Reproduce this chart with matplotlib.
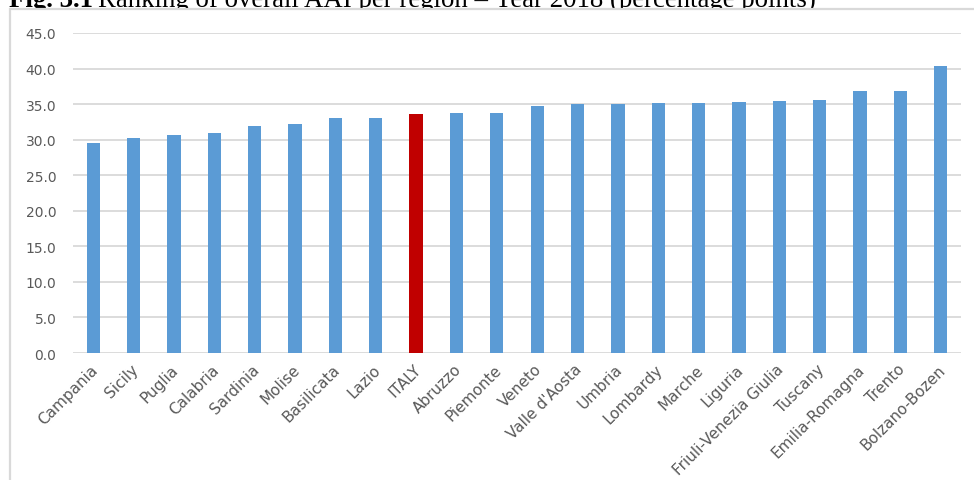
import matplotlib
matplotlib.use("Agg")
import matplotlib.pyplot as plt
from matplotlib.patches import Rectangle
from matplotlib.transforms import offset_copy

# Active Ageing Index by region, 2018 (percentage points)
regions = ["Campania", "Sicily", "Puglia", "Calabria", "Sardinia", "Molise",
           "Basilicata", "Lazio", "ITALY", "Abruzzo", "Piemonte", "Veneto",
           "Valle d'Aosta", "Umbria", "Lombardy", "Marche", "Liguria",
           "Friuli-Venezia Giulia", "Tuscany", "Emilia-Romagna", "Trento",
           "Bolzano-Bozen"]
aai = [29.5, 30.2, 30.6, 31.0, 31.9, 32.2, 33.0, 33.1, 33.6, 33.7, 33.8, 34.7,
       35.0, 35.0, 35.1, 35.1, 35.3, 35.4, 35.6, 36.8, 36.9, 40.3]
yticks = [0, 5, 10, 15, 20, 25, 30, 35, 40, 45]

BLUE = "#5B9BD5"
RED = "#C00000"
GRID = "#D9D9D9"
TXT = "#595959"
LABEL_FONT = "DejaVu Sans"

W, H = 974, 481
fig = plt.figure(figsize=(W / 100, H / 100), dpi=100)
fig.patch.set_facecolor("white")

# caption above the chart frame (its lower part runs into the frame)
cap_y = 1 - 7 / H
t1 = fig.text(9 / W, cap_y, "Fig. 3.1", family="Liberation Serif",
              weight="bold", fontsize=19.3, color="black", va="baseline",
              ha="left", zorder=-3)
fig.canvas.draw()
x_end = t1.get_window_extent().x1
t2 = fig.text((x_end + 5) / W, cap_y,
              "Ranking of overall AAI per region \u2013 Year 2018 (percentage points)",
              family="Liberation Serif", fontsize=19.3, color="black",
              va="baseline", ha="left", zorder=-3)

# chart frame
frame = Rectangle((10 / W, -0.1), 1.2, 1 - 10 / H + 0.1,
                  transform=fig.transFigure, facecolor="white",
                  edgecolor=GRID, linewidth=1.6, zorder=-1)
fig.patches.append(frame)

ax = fig.add_axes([73 / W, 1 - 354 / H, (961 - 73) / W, (354 - 34) / H])
ax.set_facecolor("none")

colors = [RED if r == "ITALY" else BLUE for r in regions]
x = list(range(len(regions)))
ax.bar(x, aai, width=0.33, color=colors, zorder=3)

ax.set_xlim(-0.5, len(regions) - 0.5)
ax.set_ylim(0, 45)
ax.set_yticks(yticks)
ax.set_yticklabels([f"{v:.1f}" for v in yticks], family=LABEL_FONT,
                   fontsize=10, color=TXT)
ax.yaxis.grid(True, color=GRID, linewidth=1.3, zorder=0)
ax.set_axisbelow(True)
for s in ["top", "right", "left", "bottom"]:
    ax.spines[s].set_visible(False)
ax.tick_params(axis="y", length=0, pad=12)
ax.tick_params(axis="x", length=0, pad=6)
ax.set_xticks(x)
ax.set_xticklabels(regions, rotation=45, ha="right", rotation_mode="anchor",
                   family=LABEL_FONT, fontsize=11, color=TXT)
for lab in ax.get_xticklabels():
    lab.set_transform(offset_copy(lab.get_transform(), fig=fig, x=-3, y=0,
                                  units="dots"))

fig.savefig("out.png", dpi=100, facecolor="white")
